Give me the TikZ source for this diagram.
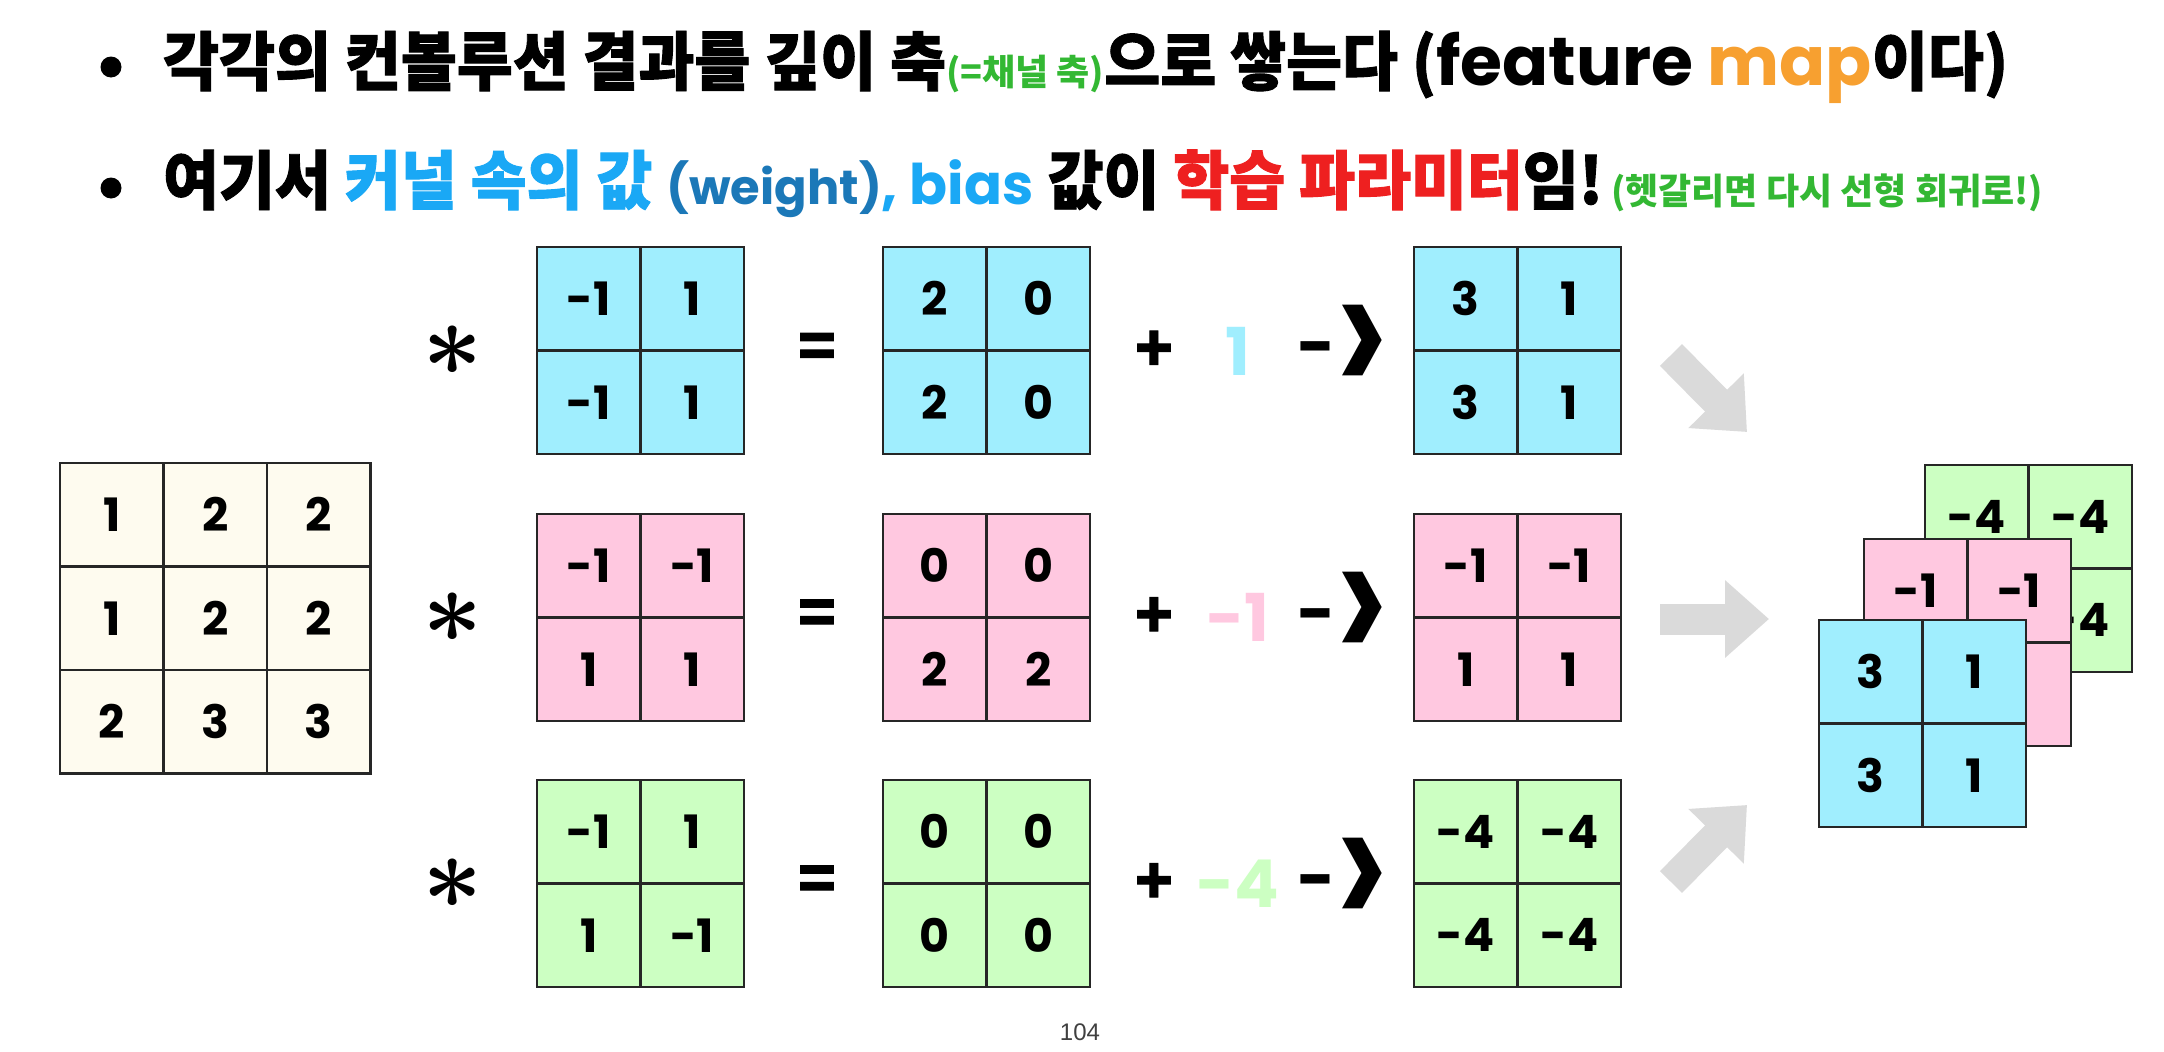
\documentclass[tikz,border=0pt]{standalone}
\usepackage{fontspec}
\setmainfont{Poppins}
\newfontfamily\kr{Noto Sans CJK KR}
\newfontfamily\krh{Noto Sans CJK KR}[BoldFeatures={FakeBold=1.5}]
\newfontfamily\pagefont{Liberation Sans}
\usetikzlibrary{arrows.meta}

\definecolor{kblue}{HTML}{A0EEFE}
\definecolor{kpink}{HTML}{FFC8E0}
\definecolor{kgreen}{HTML}{CCFFC2}
\definecolor{kcream}{HTML}{FEFBEF}
\definecolor{arrowgray}{HTML}{DADADA}
\definecolor{gridline}{HTML}{262626}
\definecolor{tblue}{HTML}{1AA8F5}
\definecolor{tdblue}{HTML}{1B78B8}
\definecolor{tred}{HTML}{EE2020}
\definecolor{torange}{HTML}{F7A030}
\definecolor{tgreen}{HTML}{33B833}

\newcommand{\ko}[1]{\scalebox{0.95}[1]{\krh\bfseries #1}}
\newcommand{\la}[1]{{\rmfamily\bfseries #1}}

\tikzset{
  cell/.style={draw=gridline, line width=2.5pt, minimum size=103.5pt, inner sep=0pt,
    font=\bfseries\fontsize{46}{46}\selectfont},
  op/.style={inner sep=0pt, font=\krh\bfseries\fontsize{62}{62}\selectfont},
  biasval/.style={inner sep=0pt, font=\bfseries\fontsize{66}{66}\selectfont},
  bigarrow/.style={draw=arrowgray, line width=31pt, -{Triangle[width=75pt,length=44pt]}},
  dot/.style={circle, fill=black, inner sep=0pt, minimum size=21pt},
}

% 2x2 grid: name, left, top, fill, entries
\newcommand{\twobytwo}[5]{%
  \foreach \v [count=\i from 0] in {#5}{%
    \pgfmathsetmacro\cx{#2+51.75+103.5*mod(\i,2)}%
    \pgfmathsetmacro\cy{#3+51.75+103.5*floor(\i/2)}%
    \node[cell, fill=#4] (#1-\i) at (\cx,\cy) {\v};}}

\begin{document}
\begin{tikzpicture}[x=1pt,y=-1pt]
\useasboundingbox[fill=white] (0,0) rectangle (2164,1052);

% title lines
\node[dot] (b1) at (111,67) {};
\node[anchor=base west, inner sep=0pt, font=\fontsize{64}{64}\selectfont] (t1) at (163,85)
  {\ko{각각의 컨볼루션 결과를 깊이 축}{\color{tgreen}\fontsize{36}{36}\selectfont\kr\bfseries(=채널 축)}\ko{으로 쌓는다 (}{\fontsize{68}{68}\selectfont\la{feature }{\color{torange}\la{map}}}\ko{이다)}};
\node[dot] (b2) at (111,188) {};
\node[anchor=base west, inner sep=0pt, font=\fontsize{64}{64}\selectfont] (t2) at (163,204)
  {\ko{여기서 }{\color{tblue}\ko{커널 속의 값 }{\color{tdblue}\fontsize{48}{48}\selectfont\la{(weight)}}{\fontsize{56}{56}\selectfont\la{, bias}}}\ko{ 값이 }{\color{tred}\ko{학습 파라미터}}\ko{임!}{\color{tgreen}\fontsize{36}{36}\selectfont\kr\bfseries\ (헷갈리면 다시 선형 회귀로!)}};

% input
\foreach \v [count=\i from 0] in {1,2,2,1,2,2,2,3,3}{
  \pgfmathsetmacro\cx{60+51.75+103.5*mod(\i,3)}
  \pgfmathsetmacro\cy{463+51.75+103.5*floor(\i/3)}
  \node[cell, fill=kcream] (in-\i) at (\cx,\cy) {\v};
}

% kernels, results, outputs
\twobytwo{k1}{537}{247}{kblue}{-1,1,-1,1}
\twobytwo{k2}{537}{514}{kpink}{-1,-1,1,1}
\twobytwo{k3}{537}{780}{kgreen}{-1,1,1,-1}
\twobytwo{r1}{883}{247}{kblue}{2,0,2,0}
\twobytwo{r2}{883}{514}{kpink}{0,0,2,2}
\twobytwo{r3}{883}{780}{kgreen}{0,0,0,0}
\twobytwo{o1}{1414}{247}{kblue}{3,1,3,1}
\twobytwo{o2}{1414}{514}{kpink}{-1,-1,1,1}
\twobytwo{o3}{1414}{780}{kgreen}{-4,-4,-4,-4}

% operators
\foreach \r/\yc/\b/\bc in {1/351/1/kblue, 2/617.5/-1/kpink, 3/883.5/-4/kgreen}{
  \node[inner sep=0pt] (ast\r) at (453,\yc) {\scalebox{10.5}{\boldmath$\ast$}};
  \node[op] (eq\r) at (817,\yc) {=};
  \node[op] (plus\r) at (1154,\yc) {+};
  \node[biasval, text=\bc] (bias\r) at (1238,\yc) {\b};
  \node[inner sep=0pt, font=\bfseries\fontsize{66}{66}\selectfont] (to\r) at (1343,\yc)
    {-\kern1pt\raisebox{-27pt}{\scalebox{0.95}[1.6]{\fontsize{100}{100}\selectfont>}}};
}

% stacked feature map
\twobytwo{s3}{1925}{465}{kgreen}{-4,-4,-4,-4}
\twobytwo{s2}{1864}{539}{kpink}{-1,-1,1,1}
\twobytwo{s1}{1819}{620}{kblue}{3,1,3,1}

% gray arrows
\coordinate (a1s) at (1671,355);
\coordinate (a1e) at (1747,432);
\coordinate (a2s) at (1660,619);
\coordinate (a2e) at (1769,619);
\coordinate (a3s) at (1671,882);
\coordinate (a3e) at (1747,805);
\draw[bigarrow] (a1s) -- (a1e);
\draw[bigarrow] (a2s) -- (a2e);
\draw[bigarrow] (a3s) -- (a3e);

\node[font=\pagefont\fontsize{24}{24}\selectfont, text=black!75] (pnum) at (1080,1032) {104};
\end{tikzpicture}
\end{document}
